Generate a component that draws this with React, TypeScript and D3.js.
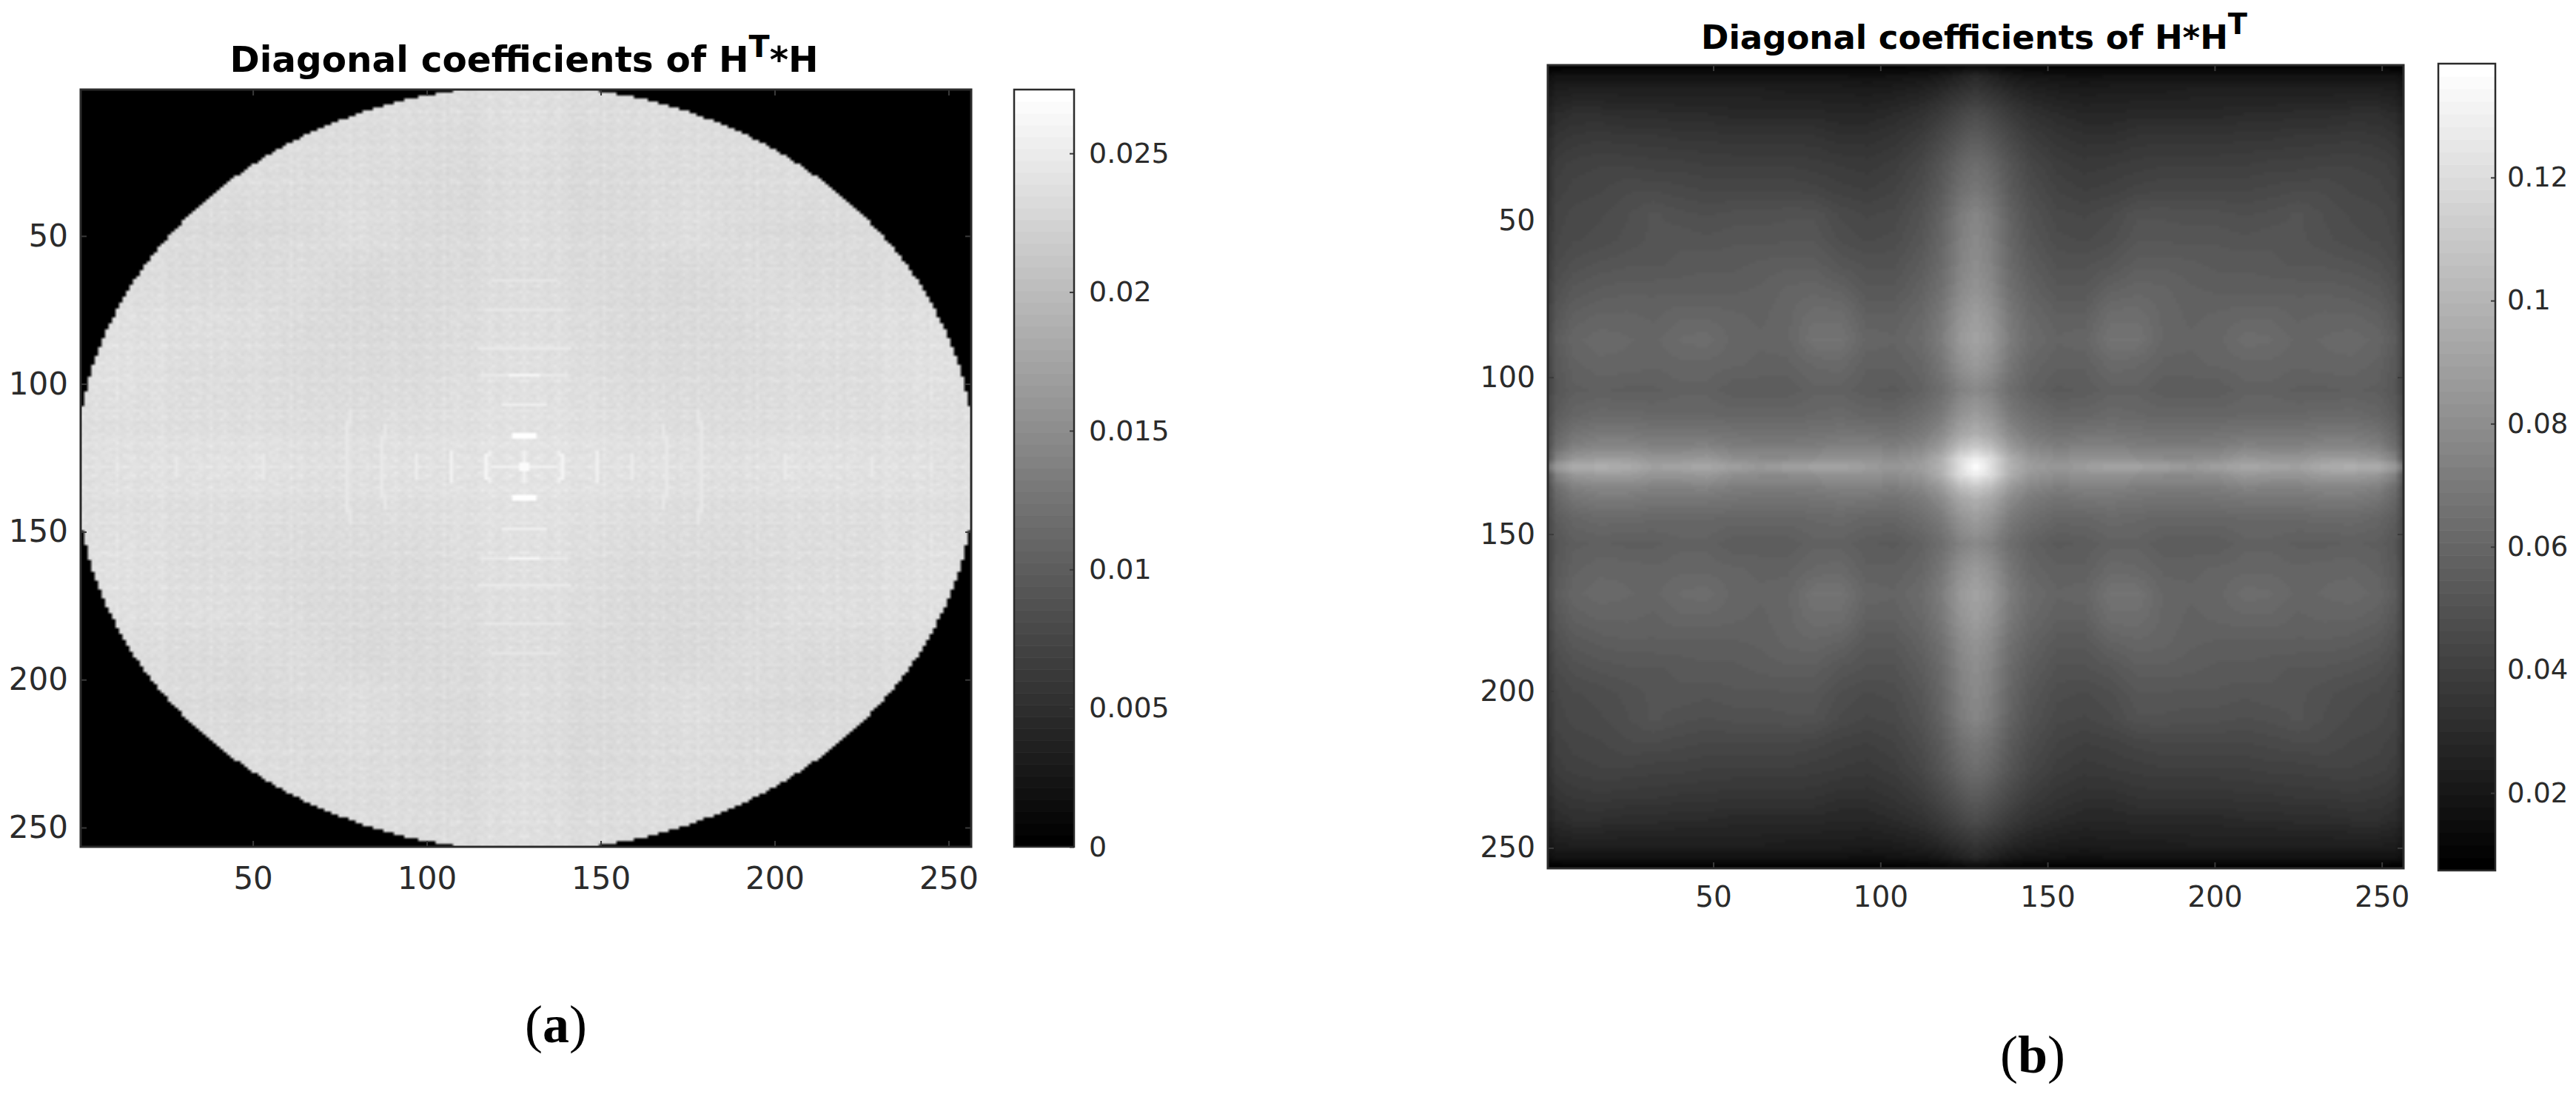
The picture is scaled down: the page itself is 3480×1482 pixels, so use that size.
import React, { useEffect, useRef } from 'react';
import * as d3 from 'd3';

const axisTicks = [50, 100, 150, 200, 250];
const barTicksA = [0, 0.005, 0.01, 0.015, 0.02, 0.025];
const barLabelsA = ['0', '0.005', '0.01', '0.015', '0.02', '0.025'];
const barTicksB = [0.02, 0.04, 0.06, 0.08, 0.1, 0.12];
const barLabelsB = ['0.02', '0.04', '0.06', '0.08', '0.1', '0.12'];
const rangeA = [0, 0.0273];
const rangeB = [0.0074, 0.1385];
const grayLevels = 64;

// panel (b): values x1000, upper left quadrant, the rest mirrors it
const knotColsB = [1, 3, 8, 16, 24, 32, 40, 48, 56, 64, 72, 80, 88, 96, 104, 112, 118, 124, 128.5];
const knotRowsB = [1, 4, 8, 16, 24, 32, 40, 48, 56, 64, 72, 80, 88, 96, 104, 112, 118, 122, 126, 128.5];
const valuesB = [
  [8, 8, 9, 9, 9, 9, 9, 9, 9, 9, 9, 9, 9, 9, 9, 10, 11, 13, 15],
  [16, 18, 18, 18, 18, 18, 18, 18, 18, 18, 18, 18, 18, 17, 18, 19, 21, 26, 29],
  [20, 23, 24, 24, 24, 24, 24, 24, 24, 24, 23, 23, 23, 22, 23, 25, 28, 32, 35],
  [26, 30, 32, 32, 31, 31, 30, 30, 29, 29, 29, 29, 28, 28, 30, 33, 38, 44, 47],
  [30, 35, 37, 38, 37, 37, 36, 36, 35, 35, 35, 35, 33, 33, 35, 39, 45, 52, 56],
  [33, 39, 41, 42, 42, 41, 41, 40, 40, 40, 40, 39, 38, 37, 39, 44, 51, 60, 64],
  [34, 41, 43, 44, 46, 46, 45, 44, 44, 44, 44, 43, 41, 40, 42, 47, 54, 65, 69],
  [36, 43, 45, 46, 48, 51, 49, 48, 49, 49, 50, 50, 46, 44, 45, 50, 58, 71, 76],
  [37, 44, 46, 47, 49, 51, 52, 51, 52, 52, 52, 52, 48, 46, 47, 52, 60, 73, 78],
  [39, 46, 49, 51, 52, 52, 53, 54, 54, 55, 56, 56, 52, 50, 50, 55, 62, 75, 80],
  [41, 49, 53, 55, 56, 56, 56, 56, 56, 57, 59, 60, 58, 53, 53, 58, 65, 78, 83],
  [43, 52, 57, 59, 59, 58, 60, 60, 59, 58, 60, 64, 64, 57, 57, 61, 69, 83, 88],
  [45, 55, 60, 62, 61, 60, 63, 64, 60, 59, 60, 67, 67, 60, 59, 63, 71, 86, 91],
  [44, 53, 58, 60, 60, 59, 60, 60, 59, 58, 58, 61, 62, 57, 57, 60, 68, 81, 86],
  [44, 52, 56, 57, 56, 56, 58, 58, 55, 55, 55, 58, 58, 55, 54, 58, 64, 74, 78],
  [46, 55, 60, 62, 62, 61, 61, 61, 60, 60, 60, 61, 62, 60, 60, 64, 70, 83, 88],
  [48, 60, 67, 70, 70, 68, 68, 68, 67, 66, 66, 67, 68, 68, 66, 70, 78, 92, 97],
  [50, 64, 73, 76, 76, 74, 74, 75, 72, 71, 71, 72, 74, 74, 72, 76, 86, 104, 110],
  [55, 74, 85, 88, 88, 84, 84, 86, 81, 79, 79, 81, 83, 83, 80, 85, 96, 120, 130],
  [70, 88, 96, 98, 96, 90, 92, 94, 90, 86, 90, 92, 92, 88, 84, 88, 98, 122, 139],
];

// panel (a): slow shading x100000, upper left quadrant
const knotsA = [1, 16, 32, 48, 64, 80, 96, 112, 128];
const shadingA = [
  [2360, 2360, 2360, 2360, 2360, 2360, 2360, 2360, 2390],
  [2360, 2360, 2360, 2360, 2360, 2360, 2360, 2340, 2390],
  [2360, 2360, 2360, 2360, 2350, 2360, 2340, 2320, 2370],
  [2360, 2360, 2340, 2320, 2340, 2380, 2340, 2330, 2380],
  [2360, 2360, 2340, 2340, 2360, 2320, 2330, 2340, 2370],
  [2390, 2390, 2380, 2380, 2340, 2330, 2330, 2360, 2390],
  [2400, 2400, 2360, 2360, 2340, 2340, 2340, 2370, 2400],
  [2380, 2380, 2370, 2370, 2360, 2360, 2370, 2390, 2410],
  [2400, 2410, 2410, 2420, 2400, 2400, 2410, 2420, 2440],
];

// fine grain of panel (a), 0..4 = two colormap steps either way
const grainA = [
  '232132421323123221342312',
  '123321232143212332123421',
  '312213123221341223212232',
  '221342212312223143221312',
  '132123321223112232341223',
  '342212132341232212123212',
  '213231223122321323212334',
  '122312341213232112432121',
  '231223212322413223122312',
  '323121132231221232231243',
  '212332223413123321213222',
  '143221312122332213322131',
  '221213233212214123123223',
  '312342122321322231412312',
  '223123213143123312221232',
  '132212321222312122333121',
  '213321132313231423112213',
  '321232243121223212231342',
  '122313122232134122322123',
  '233121321223212331213232',
  '212232133412322123142211',
  '331421223123132212323123',
  '122213312231221343122232',
  '213132221332312121231324',
];

// faint full-length stripes of panel (a) by distance from the centre, 0..4 as above
const stripeColsA = '4212332123423212122332142123322123212432312212332142231232123212331';
const stripeRowsA = '4123212342321221332412231232143212232312342123212233142122321323212';

// bright marks near the centre of panel (a): offset from centre dx from/to, dy from/to, value
const marksA = [
  [0, 3, 10, 11, 0.0273],
  [0, 9, 0, 0, 0.0258],
  [0, 0, 0, 5, 0.0258],
  [0, 1, 0, 1, 0.0268],
  [11, 11, 0, 4, 0.0262],
  [10, 10, 4, 5, 0.0258],
  [21, 21, 0, 5, 0.0258],
  [31, 31, 0, 4, 0.0252],
  [41, 41, 0, 10, 0.0249],
  [40, 40, 10, 14, 0.0248],
  [51, 51, 0, 15, 0.0248],
  [50, 50, 15, 19, 0.0247],
  [75, 75, 0, 4, 0.025],
  [100, 100, 0, 3, 0.0249],
  [0, 6, 21, 21, 0.0254],
  [0, 12, 31, 31, 0.0249],
  [0, 4, 31, 31, 0.0262],
  [0, 13, 40, 40, 0.0249],
  [0, 11, 53, 53, 0.0247],
  [0, 9, 63, 63, 0.0246],
];

const apertureRadius = 129.2;

const Width = 3480;
const Height = 1482;
const boxA = { left: 109, right: 1312, top: 121, bottom: 1144 };
const boxB = { left: 2091, right: 3247, top: 88, bottom: 1173 };
const barA = { left: 1370, right: 1451, top: 121, bottom: 1144 };
const barB = { left: 3294, right: 3371, top: 86, bottom: 1176 };
const inkColor = '#2b2b2b';

function lookup(knots: number[], v: number) {
  // position of v between the knots of a read table
  return d3.scaleLinear().domain(knots).range(d3.range(knots.length)).clamp(true)(v);
}

function readTable(table: number[][], cols: number[], rows: number[], x: number, y: number) {
  const cx = lookup(cols, x);
  const cy = lookup(rows, y);
  const i = Math.min(Math.floor(cx), cols.length - 2);
  const j = Math.min(Math.floor(cy), rows.length - 2);
  const top = d3.interpolateNumber(table[j][i], table[j][i + 1])(cx - i);
  const low = d3.interpolateNumber(table[j + 1][i], table[j + 1][i + 1])(cx - i);
  return d3.interpolateNumber(top, low)(cy - j);
}

function valueA(x: number, y: number) {
  if (Math.hypot(x - 128.5, y - 128.5) > apertureRadius) return 0;
  const mx = Math.abs(x - 128);
  const my = Math.abs(y - 128);
  const step = rangeA[1] / grayLevels;
  let v = readTable(shadingA, knotsA, knotsA, 128 - mx, 128 - my) / 100000;
  v += (+grainA[my % 24][mx % 24] - 2) * step * 0.8;
  v += (+stripeColsA[mx % stripeColsA.length] - 2) * step * 0.35;
  v += (+stripeRowsA[my % stripeRowsA.length] - 2) * step * 0.35;
  marksA.forEach(([x0, x1, y0, y1, m]) => {
    if (mx >= x0 && mx <= x1 && my >= y0 && my <= y1) v = Math.max(v, m);
  });
  return v;
}

function valueB(x: number, y: number) {
  const mx = 128.5 - Math.abs(x - 128.5);
  const my = 128.5 - Math.abs(y - 128.5);
  return readTable(valuesB, knotColsB, knotRowsB, mx, my) / 1000;
}

function levelGray(i: number) {
  return (i / (grayLevels - 1)) * 255;
}

function heatUrl(value: (x: number, y: number) => number, domain: number[], levels: number) {
  const gray = d3
    .scaleQuantize<number>()
    .domain(domain as [number, number])
    .range(d3.range(levels).map((i) => (i / (levels - 1)) * 255));
  const canvas = document.createElement('canvas');
  canvas.width = 256;
  canvas.height = 256;
  const ctx = canvas.getContext('2d')!;
  const img = ctx.createImageData(256, 256);
  for (let y = 1; y <= 256; y++) {
    for (let x = 1; x <= 256; x++) {
      const g = gray(value(x, y));
      const k = ((y - 1) * 256 + (x - 1)) * 4;
      img.data[k] = g;
      img.data[k + 1] = g;
      img.data[k + 2] = g;
      img.data[k + 3] = 255;
    }
  }
  ctx.putImageData(img, 0, 0);
  return canvas.toDataURL();
}

function styleAxis(g: d3.Selection<SVGGElement, unknown, null, undefined>, fontSize: number) {
  g.select('.domain').remove();
  g.selectAll('.tick line').attr('stroke', '#3a3a3a').attr('stroke-width', 2);
  g.selectAll('.tick text')
    .attr('fill', inkColor)
    .attr('font-family', 'DejaVu Sans')
    .attr('font-size', fontSize);
}

function drawPanel(
  svg: d3.Selection<SVGSVGElement, unknown, null, undefined>,
  box: typeof boxA,
  bar: typeof barA,
  url: string,
  domain: number[],
  barTicks: number[],
  barLabels: string[],
  fontSize: number,
  barFontSize: number,
  padBottom: number,
  padLeft: number,
  padBar: number,
) {
  const x = d3.scaleLinear().domain([0.5, 256.5]).range([box.left, box.right]);
  const y = d3.scaleLinear().domain([0.5, 256.5]).range([box.top, box.bottom]);

  svg
    .append('image')
    .attr('href', url)
    .attr('x', box.left)
    .attr('y', box.top)
    .attr('width', box.right - box.left)
    .attr('height', box.bottom - box.top)
    .attr('preserveAspectRatio', 'none');

  const bottom = svg
    .append('g')
    .attr('transform', `translate(0,${box.bottom})`)
    .call(d3.axisBottom(x).tickValues(axisTicks).tickSize(-8).tickPadding(padBottom).tickFormat(d3.format('d') as any));
  styleAxis(bottom, fontSize);
  const left = svg
    .append('g')
    .attr('transform', `translate(${box.left},0)`)
    .call(d3.axisLeft(y).tickValues(axisTicks).tickSize(-8).tickPadding(padLeft).tickFormat(d3.format('d') as any));
  styleAxis(left, fontSize);
  const top = svg
    .append('g')
    .attr('transform', `translate(0,${box.top})`)
    .call(d3.axisTop(x).tickValues(axisTicks).tickSize(-8).tickFormat(() => ''));
  styleAxis(top, fontSize);
  const right = svg
    .append('g')
    .attr('transform', `translate(${box.right},0)`)
    .call(d3.axisRight(y).tickValues(axisTicks).tickSize(-8).tickFormat(() => ''));
  styleAxis(right, fontSize);

  svg
    .append('rect')
    .attr('x', box.left)
    .attr('y', box.top)
    .attr('width', box.right - box.left)
    .attr('height', box.bottom - box.top)
    .attr('fill', 'none')
    .attr('stroke', inkColor)
    .attr('stroke-width', 3);

  // colorbar
  const levels = d3.range(grayLevels);
  const band = d3.scaleBand<number>().domain(levels).range([bar.bottom, bar.top]);
  svg
    .append('g')
    .selectAll('rect')
    .data(levels)
    .enter()
    .append('rect')
    .attr('x', bar.left)
    .attr('y', (d) => band(d)!)
    .attr('width', bar.right - bar.left)
    .attr('height', band.bandwidth() + 0.6)
    .attr('fill', (d) => d3.rgb(levelGray(d), levelGray(d), levelGray(d)).formatHex());

  const c = d3.scaleLinear().domain(domain).range([bar.bottom, bar.top]);
  const barAxis = svg
    .append('g')
    .attr('transform', `translate(${bar.right},0)`)
    .call(
      d3
        .axisRight(c)
        .tickValues(barTicks)
        .tickSize(-6)
        .tickPadding(padBar)
        .tickFormat((_, i) => barLabels[i]),
    );
  styleAxis(barAxis, barFontSize);
  svg
    .append('rect')
    .attr('x', bar.left)
    .attr('y', bar.top)
    .attr('width', bar.right - bar.left)
    .attr('height', bar.bottom - bar.top)
    .attr('fill', 'none')
    .attr('stroke', inkColor)
    .attr('stroke-width', 2.5);
}

function addTitle(
  svg: d3.Selection<SVGSVGElement, unknown, null, undefined>,
  cx: number,
  baseline: number,
  fontSize: number,
  before: string,
  after: string,
) {
  const t = svg
    .append('text')
    .attr('x', cx)
    .attr('y', baseline)
    .attr('text-anchor', 'middle')
    .attr('font-family', 'DejaVu Sans')
    .attr('font-weight', 'bold')
    .attr('font-size', fontSize)
    .attr('fill', '#000');
  t.append('tspan').text(before);
  t.append('tspan').attr('dy', -20).attr('font-size', fontSize * 0.85).text('T');
  if (after) t.append('tspan').attr('dy', 20).text(after);
}

function addCaption(
  svg: d3.Selection<SVGSVGElement, unknown, null, undefined>,
  cx: number,
  baseline: number,
  letter: string,
) {
  const t = svg
    .append('text')
    .attr('x', cx)
    .attr('y', baseline)
    .attr('text-anchor', 'middle')
    .attr('font-family', 'Liberation Serif')
    .attr('font-size', 72)
    .attr('fill', '#000');
  t.append('tspan').text('(');
  t.append('tspan').attr('font-weight', 'bold').text(letter);
  t.append('tspan').text(')');
}

export default function App() {
  const svgRef = useRef<SVGSVGElement>(null);

  useEffect(() => {
    if (!svgRef.current) return;
    const svg = d3.select(svgRef.current);
    svg.selectAll('*').remove();

    svg.append('rect').attr('width', Width).attr('height', Height).attr('fill', '#fff');

    // panel (a) keeps all grays: the photographed figure has lost its colormap steps there
    drawPanel(svg, boxA, barA, heatUrl(valueA, rangeA, 256), rangeA, barTicksA, barLabelsA, 42, 38, 27, 17, 20);
    drawPanel(svg, boxB, barB, heatUrl(valueB, rangeB, grayLevels), rangeB, barTicksB, barLabelsB, 39, 37, 24, 17, 16);

    addTitle(svg, 708, 97, 48.5, 'Diagonal coefficients of H', '*H');
    addTitle(svg, 2667, 66, 45, 'Diagonal coefficients of H*H', '');
    addCaption(svg, 751, 1408, 'a');
    addCaption(svg, 2746, 1449, 'b');
  }, []);

  return (
    <svg
      ref={svgRef}
      width={Width}
      height={Height}
      style={{ position: 'absolute', left: 0, top: 0, display: 'block' }}
    />
  );
}
